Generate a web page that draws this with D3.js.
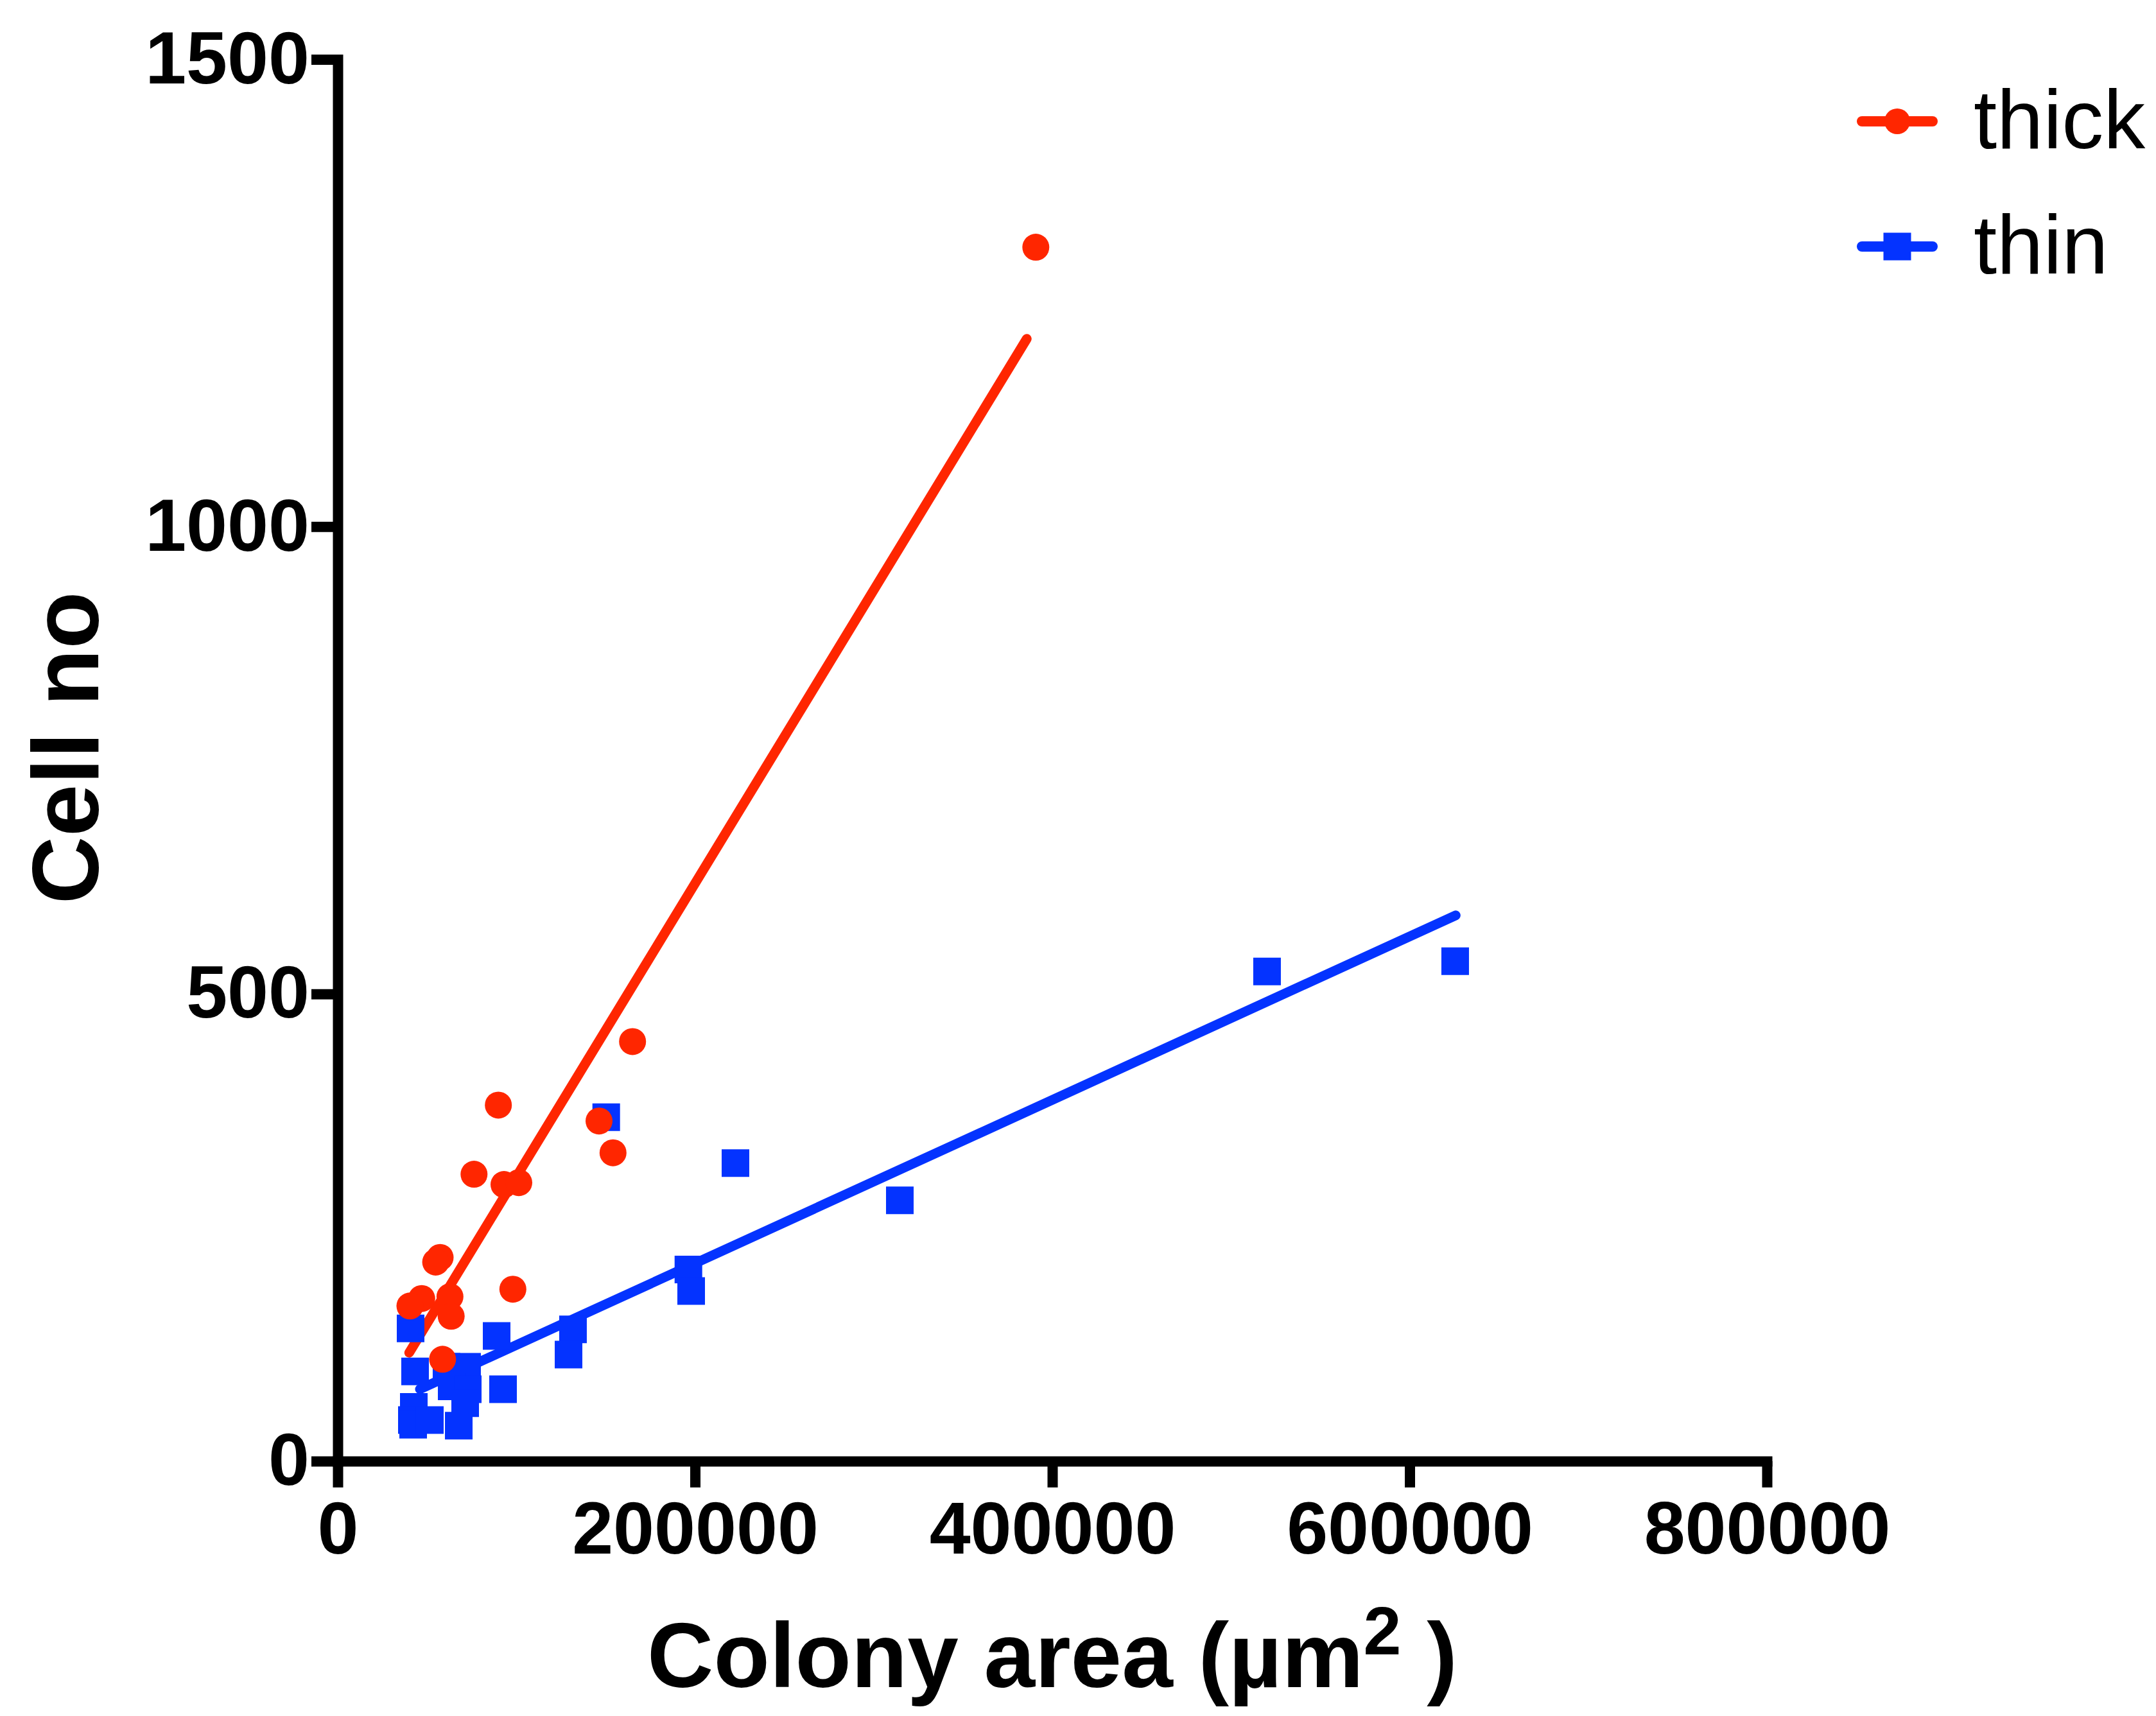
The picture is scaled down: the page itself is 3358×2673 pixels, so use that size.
<!DOCTYPE html>
<html>
<head>
<meta charset="utf-8">
<script src="https://cdn.jsdelivr.net/npm/d3@7"></script>
<style>
  html, body { margin: 0; padding: 0; background: #ffffff; }
  svg { display: block; }
</style>
</head>
<body>
<script>
// ---------- DATA ----------
const seriesNames = ["thick", "thin"];
const seriesColors = ["#FF2600", "#0433FF"];

// thick (red circles): colony area (µm²) and cell number
const thickX = [165030, 89920, 146270, 154100, 76300, 93080, 101350, 57320, 54840, 98040, 47010, 40430, 62820, 63500, 58690, 390760];
const thickY = [449, 381, 364, 330, 307, 296, 298, 218, 213, 184, 174, 166, 176, 155, 109, 1299];

// thin (blue squares)
const thinX = [40790, 88950, 131700, 129200, 43300, 60900, 72400, 63790, 72780, 71340, 67750, 92540, 42590, 41510, 42230, 51570, 150300, 196300, 197840, 222640, 314640, 520200, 625500];
const thinY = [142, 134, 141, 114, 96, 101, 101, 80, 77, 62, 38, 77, 58, 44, 39, 44, 368, 205, 182, 319, 279, 524, 535];

// linear fit lines (end points)
const thickFitX = [40000, 385700];
const thickFitY = [116, 1201];
const thinFitX = [46000, 625800];
const thinFitY = [77, 584];

// axes
const xTicks = [0, 200000, 400000, 600000, 800000];
const yTicks = [0, 500, 1000, 1500];
const xDomain = [0, 800000];
const yDomain = [0, 1500];
const xTitle = "Colony area (µm";
const xTitleSup = "2";
const xTitleEnd = " )";
const yTitle = "Cell no";

// ---------- CHART ----------
const W = 3358, H = 2673;
const FONT = "'Liberation Sans', Arial, Helvetica, sans-serif";

const svg = d3.select("body").append("svg")
  .attr("width", W).attr("height", H)
  .attr("viewBox", `0 0 ${W} ${H}`);

svg.append("rect").attr("width", W).attr("height", H).attr("fill", "#ffffff");

const x = d3.scaleLinear().domain(xDomain).range([526, 2752]);
const y = d3.scaleLinear().domain(yDomain).range([2276, 92.5]);

// fit lines
const lineGen = d3.line().x(d => x(d[0])).y(d => y(d[1]));
const fits = [
  { pts: d3.zip(thickFitX, thickFitY), color: seriesColors[0] },
  { pts: d3.zip(thinFitX, thinFitY), color: seriesColors[1] }
];
svg.append("g").selectAll("path").data(fits).join("path")
  .attr("d", d => lineGen(d.pts))
  .attr("fill", "none")
  .attr("stroke", d => d.color)
  .attr("stroke-width", 15)
  .attr("stroke-linecap", "round");

// points: blue squares first, then red circles on top
const squareSym = d3.symbol().type(d3.symbolSquare).size(43 * 43);
const circleSym = d3.symbol().type(d3.symbolCircle).size(Math.PI * 21 * 21);

svg.append("g").selectAll("path").data(d3.zip(thinX, thinY)).join("path")
  .attr("d", squareSym)
  .attr("transform", d => `translate(${x(d[0])},${y(d[1])})`)
  .attr("fill", seriesColors[1]);

svg.append("g").selectAll("path").data(d3.zip(thickX, thickY)).join("path")
  .attr("d", circleSym)
  .attr("transform", d => `translate(${x(d[0])},${y(d[1])})`)
  .attr("fill", seriesColors[0]);

// axes
function styleAxis(g) {
  g.select(".domain").attr("stroke", "#000").attr("stroke-width", 16).attr("stroke-linecap", "square");
  g.selectAll(".tick line").attr("stroke", "#000").attr("stroke-width", 16);
  g.selectAll(".tick text")
    .attr("fill", "#000")
    .style("font-family", FONT)
    .style("font-weight", "bold")
    .style("font-size", "115px");
}

svg.append("g")
  .attr("transform", `translate(0,${y(0)})`)
  .call(d3.axisBottom(x).tickValues(xTicks).tickFormat(d3.format("d"))
        .tickSize(41).tickSizeOuter(0).tickPadding(21))
  .call(styleAxis);

svg.append("g")
  .attr("transform", `translate(${x(0)},0)`)
  .call(d3.axisLeft(y).tickValues(yTicks).tickFormat(d3.format("d"))
        .tickSize(41).tickSizeOuter(0).tickPadding(3))
  .call(styleAxis);

// axis titles
const xt = svg.append("text")
  .attr("x", (x.range()[0] + x.range()[1]) / 2)
  .attr("y", 2628)
  .attr("text-anchor", "middle")
  .style("font-family", FONT)
  .style("font-weight", "bold")
  .style("font-size", "143px")
  .attr("fill", "#000");
xt.append("tspan").text(xTitle);
xt.append("tspan").attr("dy", -51).style("font-size", "106px").text(xTitleSup);
xt.append("tspan").attr("dy", 51).text(xTitleEnd);

svg.append("text")
  .attr("transform", "translate(153,1165) rotate(-90)")
  .attr("text-anchor", "middle")
  .style("font-family", FONT)
  .style("font-weight", "bold")
  .style("font-size", "146px")
  .attr("fill", "#000")
  .text(yTitle);

// legend
const legendY = [189, 384];
const lg = svg.append("g").selectAll("g").data(seriesNames).join("g")
  .attr("transform", (d, i) => `translate(0,${legendY[i]})`);
lg.append("line")
  .attr("x1", 2900).attr("x2", 3010).attr("y1", 0).attr("y2", 0)
  .attr("stroke", (d, i) => seriesColors[i])
  .attr("stroke-width", 16)
  .attr("stroke-linecap", "round");
lg.append("path")
  .attr("d", (d, i) => i === 0
    ? d3.symbol().type(d3.symbolCircle).size(Math.PI * 20 * 20)()
    : d3.symbol().type(d3.symbolSquare).size(43 * 43)())
  .attr("transform", "translate(2955,0)")
  .attr("fill", (d, i) => seriesColors[i]);
lg.append("text")
  .attr("x", 3074).attr("y", 42)
  .style("font-family", FONT)
  .style("font-size", "130px")
  .attr("fill", "#000")
  .text(d => d);
</script>
</body>
</html>
